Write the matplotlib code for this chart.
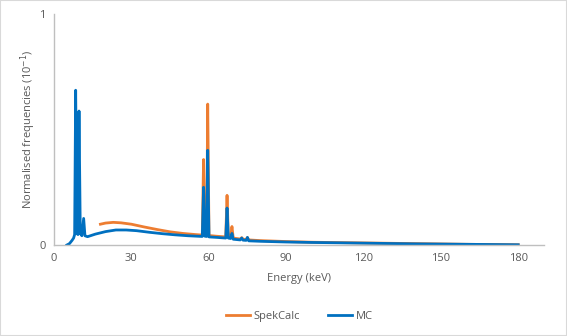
import matplotlib
matplotlib.use("Agg")
import matplotlib.pyplot as plt
from matplotlib.patches import Rectangle

plt.rcParams['font.family'] = ['Open Sans', 'DejaVu Sans']

# MC simulated spectrum (energy in keV, normalised frequency in units of 10^-1)
mc_energy = [5, 6, 7, 7.6, 8.0, 8.4, 8.9, 9.3, 9.7, 10.2, 10.8, 11.5, 12.0, 13, 16, 20, 24, 28,
             32, 37, 42, 47, 52, 57.5, 58.0, 58.5, 59.2, 59.6, 60.1, 63, 66.6, 67.1, 67.6,
             68.5, 69.0, 69.5, 72.2, 72.8, 73.3, 74.5, 75.0, 75.5, 80, 90, 100, 120, 140,
             160, 180]
mc_values = [0.0, 0.006, 0.02, 0.03, 0.045, 0.67, 0.05, 0.045, 0.58, 0.05, 0.04, 0.115, 0.04,
             0.036, 0.047, 0.058, 0.065, 0.065, 0.062, 0.055, 0.049, 0.044, 0.040, 0.037,
             0.25, 0.038, 0.037, 0.41, 0.035, 0.033, 0.03, 0.16, 0.03, 0.028, 0.05, 0.025,
             0.022, 0.03, 0.021, 0.02, 0.033, 0.018, 0.016, 0.013, 0.011, 0.008, 0.005,
             0.003, 0.001]

# SpekCalc spectrum
sc_energy = [18, 20, 23, 26, 30, 35, 40, 45, 50, 55, 57.5, 58.0, 58.5, 59.2, 59.6, 60.1, 63,
             66.6, 67.1, 67.6, 68.5, 69.0, 69.5, 72.2, 72.8, 73.3, 74.5, 75.0, 75.5, 80, 90,
             100, 120, 140, 160, 180]
sc_values = [0.09, 0.095, 0.098, 0.096, 0.09, 0.078, 0.067, 0.057, 0.05, 0.045, 0.043, 0.37,
             0.044, 0.043, 0.61, 0.041, 0.038, 0.035, 0.215, 0.034, 0.032, 0.08, 0.03, 0.026,
             0.032, 0.025, 0.024, 0.032, 0.022, 0.019, 0.015, 0.012, 0.009, 0.006, 0.003,
             0.001]

x_ticks = [0, 30, 60, 90, 120, 150, 180]
y_ticks = [0, 1]

text_col = '#595959'
axis_col = '#BFBFBF'

fig = plt.figure(figsize=(5.67, 3.36), dpi=100)
ax = fig.add_axes([54 / 567, 1 - 245 / 336, 490 / 567, 231 / 336])

ax.plot(sc_energy, sc_values, color='#ED7D31', lw=2.0, label='SpekCalc',
        solid_joinstyle='round')
ax.plot(mc_energy, mc_values, color='#0070C0', lw=2.0, label='MC',
        solid_joinstyle='round')

ax.set_xlim(0, 190)
ax.set_ylim(0, 1)
ax.set_xticks(x_ticks)
ax.set_yticks(y_ticks)
ax.tick_params(length=0, labelsize=8, colors=text_col, pad=6)
for s in ('top', 'right'):
    ax.spines[s].set_visible(False)
for s in ('left', 'bottom'):
    ax.spines[s].set_color(axis_col)
    ax.spines[s].set_linewidth(1.0)

ax.set_xlabel('Energy (keV)', fontsize=8, color=text_col, labelpad=6)
ax.set_ylabel('Normalised frequencies (10$^{-1}$)', fontsize=8, color=text_col, labelpad=1)

ax.legend(loc='center', bbox_to_anchor=(0.5, -0.31), ncol=2, frameon=False, fontsize=8,
          labelcolor=text_col, handlelength=2.2, columnspacing=2.5, handletextpad=0.3)

fig.patches.append(Rectangle((0, 0), 1, 1, transform=fig.transFigure, fill=False,
                             edgecolor='#D9D9D9', lw=1.5))

fig.savefig('out.png', dpi=100, facecolor='white')
